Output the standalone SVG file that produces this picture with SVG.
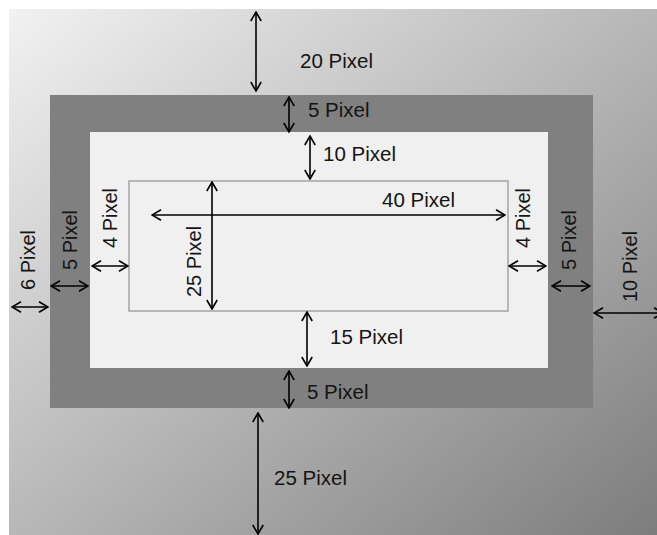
<svg xmlns="http://www.w3.org/2000/svg" width="657" height="535" viewBox="0 0 657 535">
  <style>
    .lbl { font-family: "Liberation Sans", Arial, sans-serif; font-size: 20.5px; fill: #141414; }
    .vl { font-family: "Liberation Sans", Arial, sans-serif; font-size: 20px; fill: #141414; }
    .arr { stroke: #000; stroke-width: 1.6; fill: none; marker-start: url(#ah); marker-end: url(#ah); }
  </style>
  <defs>
    <linearGradient id="bg" x1="0" y1="0" x2="1" y2="1">
      <stop offset="0" stop-color="#f2f2f2"/>
      <stop offset="1" stop-color="#7a7a7a"/>
    </linearGradient>
    <marker id="ah" viewBox="0 0 12 12" refX="11" refY="6" markerWidth="12" markerHeight="12" markerUnits="userSpaceOnUse" orient="auto-start-reverse">
      <path d="M2,0.8 L11,6 L2,11.2" fill="none" stroke="#000" stroke-width="1.6"/>
    </marker>
  </defs>
  <rect x="0" y="0" width="657" height="535" fill="#ffffff"/>
  <g id="outer-margin">
    <rect x="9" y="9" width="660" height="540" fill="url(#bg)"/>
  </g>
  <g id="border">
    <rect x="50" y="95" width="543" height="313" fill="#808080"/>
  </g>
  <g id="padding">
    <rect x="90" y="132" width="458" height="236" fill="#f0f0f0"/>
  </g>
  <g id="content">
    <rect x="129" y="181" width="379" height="130" fill="#f0f0f0" stroke="#a4a4a4" stroke-width="1.5"/>
  </g>
  <g id="connectors">
    <line class="arr" x1="256" y1="12" x2="256" y2="91"/>
    <line class="arr" x1="289" y1="97" x2="289" y2="132"/>
    <line class="arr" x1="310" y1="136" x2="310" y2="179"/>
    <line class="arr" x1="152" y1="215" x2="505" y2="215"/>
    <line class="arr" x1="212" y1="182" x2="212" y2="309"/>
    <line class="arr" x1="92" y1="266" x2="128" y2="266"/>
    <line class="arr" x1="51" y1="286" x2="88" y2="286"/>
    <line class="arr" x1="12" y1="307" x2="48" y2="307"/>
    <line class="arr" x1="509" y1="266" x2="546" y2="266"/>
    <line class="arr" x1="552" y1="286" x2="590" y2="286"/>
    <line class="arr" x1="594" y1="313" x2="663" y2="313"/>
    <line class="arr" x1="307" y1="312" x2="307" y2="366"/>
    <line class="arr" x1="289" y1="371" x2="289" y2="408"/>
    <line class="arr" x1="258" y1="413" x2="258" y2="534"/>
  </g>
  <g id="labels">
    <text class="lbl" x="300" y="68">20 Pixel</text>
    <text class="lbl" x="308" y="117">5 Pixel</text>
    <text class="lbl" x="323" y="161">10 Pixel</text>
    <text class="lbl" x="382" y="207">40 Pixel</text>
    <text class="lbl" x="330" y="344">15 Pixel</text>
    <text class="lbl" x="307" y="399">5 Pixel</text>
    <text class="lbl" x="274" y="485">25 Pixel</text>
    <text class="vl" transform="translate(201,297) rotate(-90)">25 Pixel</text>
    <text class="vl" transform="translate(117,248) rotate(-90)">4 Pixel</text>
    <text class="vl" transform="translate(77,270) rotate(-90)">5 Pixel</text>
    <text class="vl" transform="translate(35,290) rotate(-90)">6 Pixel</text>
    <text class="vl" transform="translate(530,248) rotate(-90)">4 Pixel</text>
    <text class="vl" transform="translate(576,270) rotate(-90)">5 Pixel</text>
    <text class="vl" transform="translate(637,302) rotate(-90)">10 Pixel</text>
  </g>
</svg>
